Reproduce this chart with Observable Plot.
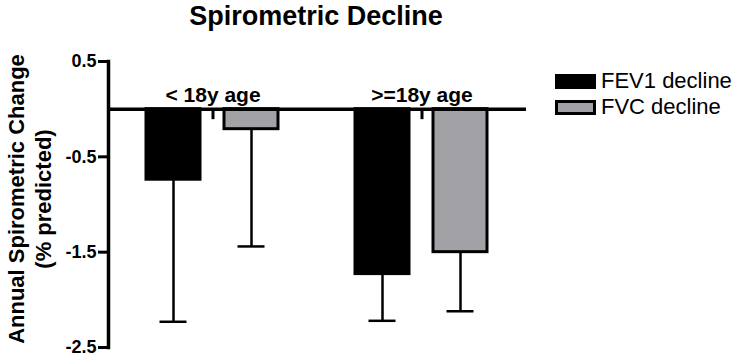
<!DOCTYPE html>
<html>
<head>
<meta charset="utf-8">
<script src="https://cdn.jsdelivr.net/npm/d3@7"></script>
<script src="https://cdn.jsdelivr.net/npm/@observablehq/plot@0.6"></script>
<style>
  body { margin: 0; background: #fff; }
  #wrap { position: relative; width: 745px; height: 356px; font-family: "Liberation Sans", Arial, sans-serif; color: #000; overflow: hidden; }
  #chart { position: absolute; left: 0; top: 0; }
  #title { position: absolute; left: 116px; width: 400px; top: 1px; text-align: center; font-weight: bold; font-size: 27px; line-height: 30px; white-space: nowrap; }
  #ylabel { position: absolute; left: 30px; top: 199px; transform: translate(-50%, -50%) rotate(-90deg); text-align: center; font-weight: bold; font-size: 22px; line-height: 27px; white-space: nowrap; }
  #legend { position: absolute; left: 555px; top: 68px; }
  .item { display: flex; align-items: center; height: 26px; font-size: 22px; white-space: nowrap; }
  .sw { width: 41px; height: 15px; box-sizing: border-box; border: 3px solid #000; margin-right: 5px; }
</style>
</head>
<body>
<div id="wrap">
  <div id="chart"></div>
  <div id="title"></div>
  <div id="ylabel"></div>
  <div id="legend"></div>
</div>
<script>
const titleText = "Spirometric Decline";
const yLabelLines = ["Annual Spirometric Change", "(% predicted)"];
const groups = ["< 18y age", ">=18y age"];
const series = ["FEV1 decline", "FVC decline"];
const fev1Mean = [-0.74, -1.73];
const fev1Err = [1.49, 0.49];
const fvcMean = [-0.21, -1.50];
const fvcErr = [1.23, 0.62];
const yTicks = [0.5, -0.5, -1.5, -2.5];
const colors = ["#000000", "#a2a2a6"];

const data = groups.flatMap((g, i) => [
  {group: g, series: series[0], value: fev1Mean[i], err: fev1Err[i]},
  {group: g, series: series[1], value: fvcMean[i], err: fvcErr[i]}
]);

// a short downward tick drawn as a custom symbol (category tick on the zero line)
const downTick = {draw(ctx) { ctx.moveTo(0, 0); ctx.lineTo(0, 10); }};

const chart = Plot.plot({
  width: 745,
  height: 356,
  marginLeft: 108,
  marginRight: 219,
  marginTop: 61,
  marginBottom: 9,
  style: {fontFamily: "'Liberation Sans', Arial, sans-serif", color: "black", background: "transparent", overflow: "visible"},
  fx: {domain: groups, padding: 0, axis: null},
  x: {domain: series, paddingInner: 0.304, paddingOuter: 0.475, axis: null},
  y: {domain: [-2.5, 0.5], axis: null},
  color: {domain: series, range: colors},
  marks: [
    Plot.barY(data, {fx: "group", x: "series", y: "value", fill: "series", stroke: "black", strokeWidth: 3}),
    Plot.ruleX(data, {fx: "group", x: "series", y1: "value", y2: d => d.value - d.err, stroke: "black", strokeWidth: 2.5}),
    Plot.tickY(data, {fx: "group", x: "series", y: d => d.value - d.err, stroke: "black", strokeWidth: 2.5, insetLeft: 13.5, insetRight: 13.5}),
    Plot.ruleY([0], {stroke: "black", strokeWidth: 3.5}),
    Plot.frame({anchor: "left", facet: "super", stroke: "black", strokeWidth: 3.5}),
    Plot.dot(groups, {fx: d => d, y: () => 0, symbol: downTick, r: 5, fill: "none", stroke: "black", strokeWidth: 3}),
    Plot.text(groups, {fx: d => d, y: () => 0, text: d => d, dy: -7, lineAnchor: "bottom", fontWeight: "bold", fontSize: 21, fill: "black"}),
    Plot.axisY({ticks: yTicks, tickFormat: d => String(d), tickSize: 10, tickPadding: 2, strokeWidth: 3, fontSize: 18, fontWeight: "bold", fill: "black", label: null})
  ]
});
document.getElementById("chart").appendChild(chart);

document.getElementById("title").textContent = titleText;
document.getElementById("ylabel").innerHTML = yLabelLines.map(s => `<div>${s}</div>`).join("");

const legend = document.getElementById("legend");
series.forEach((s, i) => {
  const item = document.createElement("div");
  item.className = "item";
  const sw = document.createElement("div");
  sw.className = "sw";
  sw.style.background = colors[i];
  const label = document.createElement("span");
  label.textContent = s;
  item.appendChild(sw);
  item.appendChild(label);
  legend.appendChild(item);
});
</script>
</body>
</html>
